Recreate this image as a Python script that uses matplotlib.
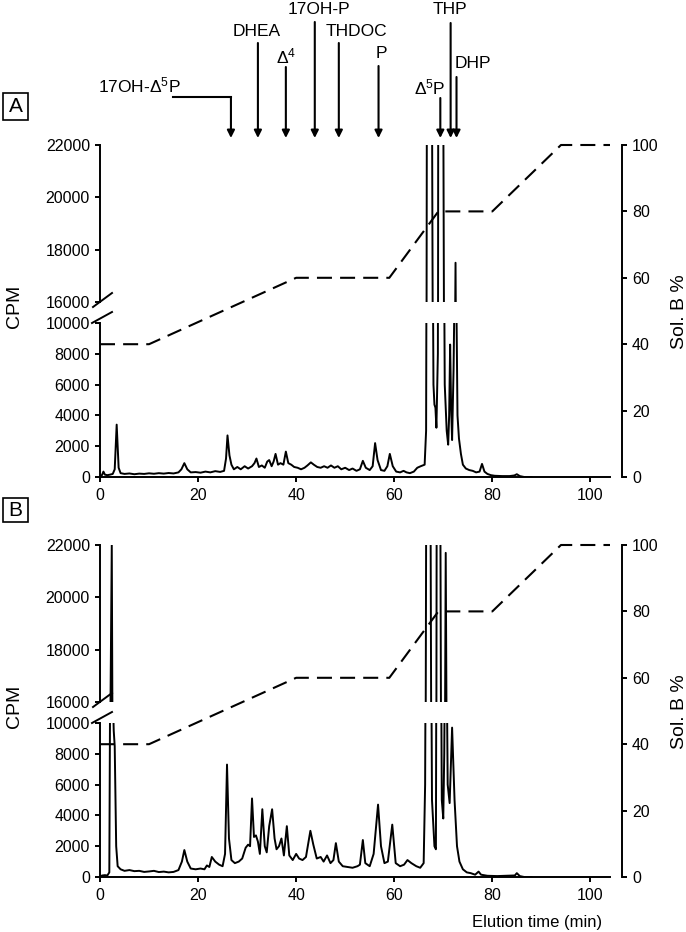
import matplotlib
matplotlib.use('Agg')
import matplotlib.pyplot as plt
from matplotlib.transforms import blended_transform_factory
from matplotlib.lines import Line2D
from matplotlib.patches import Rectangle

plt.rcParams['font.family'] = ['Liberation Sans', 'DejaVu Sans']
plt.rcParams['mathtext.fontset'] = 'custom'
plt.rcParams['mathtext.rm'] = 'Liberation Sans'
plt.rcParams['mathtext.it'] = 'Liberation Sans:italic'
plt.rcParams['mathtext.bf'] = 'Liberation Sans:bold'

# ---------------- data ----------------
# Solvent B gradient (% vs min)
grad_time = [0, 10, 40, 59, 69, 80, 94, 104]
grad_solb = [40, 40, 60, 60, 80, 80, 100, 100]

# Panel A radio-chromatogram (min, CPM)
time_a = [0.0, 0.4, 0.7, 1.0, 1.5, 2.0, 2.6, 3.0, 3.4, 3.8,
          4.2, 5.0, 6.0, 7.0, 8.0, 9.0, 10.0, 11.0, 12.0, 13.0,
          14.0, 15.0, 16.0, 16.6, 17.2, 17.8, 18.5, 19.5, 20.5, 21.5,
          22.5, 23.5, 24.5, 25.3, 25.7, 26.0, 26.4, 26.8, 27.3, 28.0,
          28.7, 29.5, 30.2, 31.0, 31.5, 31.9, 32.4, 33.0, 33.6, 34.1,
          34.5, 35.0, 35.4, 35.8, 36.3, 36.8, 37.4, 37.9, 38.4, 39.0,
          39.6, 40.3, 41.0, 41.7, 42.3, 43.0, 43.6, 44.3, 45.0, 45.7,
          46.4, 47.1, 47.8, 48.5, 49.2, 50.0, 50.8, 51.5, 52.3, 53.0,
          53.6, 54.2, 55.0, 55.6, 56.1, 56.6, 57.3, 58.0, 58.6, 59.1,
          59.7, 60.4, 61.2, 61.9, 62.5, 63.2, 64.0, 64.7, 65.4, 66.2,
          66.5, 66.7, 67.6, 68.0, 68.2, 68.4, 68.6, 68.9, 69.0, 69.9,
          70.3, 70.7, 71.0, 71.2, 71.4, 71.6, 71.8, 72.1, 72.5, 72.9,
          73.2, 73.6, 74.0, 74.6, 75.3, 76.0, 76.7, 77.4, 77.9, 78.4,
          79.0, 79.7, 80.5, 82.0, 83.5, 84.5, 85.0, 85.6, 86.5, 88.0]
cpm_a = [80, 120, 350, 150, 120, 150, 200, 500, 3400, 600,
         250, 200, 230, 180, 220, 200, 240, 210, 250, 220,
         260, 230, 300, 500, 900, 500, 300, 320, 280, 350,
         300, 380, 330, 400, 1200, 2700, 1400, 800, 500, 650,
         500, 700, 550, 700, 900, 1200, 650, 750, 600, 1000,
         1100, 700, 1000, 1500, 800, 900, 800, 1650, 900, 800,
         650, 600, 500, 600, 750, 950, 800, 650, 600, 700,
         600, 750, 600, 700, 500, 600, 450, 550, 400, 500,
         1050, 600, 450, 700, 2200, 1100, 450, 400, 700, 1500,
         700, 350, 300, 400, 300, 250, 350, 600, 700, 800,
         3000, 30000, 30000, 6000, 4700, 4500, 3200, 8000, 30000, 30000,
         6000, 3000, 2100, 4000, 8600, 4500, 2400, 7000, 17500, 4000,
         2500, 1500, 800, 550, 450, 400, 300, 350, 850, 350,
         200, 120, 80, 60, 60, 100, 180, 60, 0, 0]

# Panel B radio-chromatogram (min, CPM)
time_b = [0.0, 0.5, 1.0, 1.5, 1.9, 2.1, 2.4, 2.6, 2.8, 3.0,
          3.3, 3.6, 4.2, 5.0, 6.0, 7.0, 8.0, 9.0, 10.0, 11.0,
          12.0, 13.0, 14.0, 15.0, 16.0, 16.7, 17.2, 17.8, 18.5, 19.5,
          20.5, 21.3, 21.8, 22.3, 22.8, 23.5, 24.3, 25.0, 25.5, 25.9,
          26.3, 26.8, 27.5, 28.3, 29.0, 29.7, 30.2, 30.6, 31.0, 31.4,
          31.8, 32.2, 32.6, 33.1, 33.6, 34.0, 34.5, 35.1, 35.6, 36.0,
          36.5, 37.0, 37.5, 38.1, 38.6, 39.3, 40.0, 40.6, 41.3, 42.0,
          42.9, 43.5, 44.2, 45.0, 45.6, 46.3, 47.0, 47.6, 48.1, 48.7,
          49.5, 50.5, 51.5, 52.5, 53.0, 53.6, 54.1, 55.0, 55.8, 56.7,
          57.3, 58.0, 58.7, 59.6, 60.3, 61.2, 62.0, 62.7, 63.5, 64.5,
          65.3, 66.0, 66.3, 66.6, 67.3, 67.7, 68.2, 68.5, 68.7, 69.3,
          69.7, 70.0, 70.2, 70.5, 70.9, 71.3, 71.8, 72.3, 72.8, 73.3,
          74.0, 74.8, 75.6, 76.5, 77.2, 77.7, 79.0, 81.0, 83.0, 84.6,
          85.0, 85.6, 86.5, 88.0]
cpm_b = [50, 100, 120, 100, 300, 15000, 22000, 12000, 9500, 8500,
         2000, 700, 500, 400, 450, 380, 400, 330, 360, 400,
         320, 350, 300, 330, 450, 1000, 1750, 1000, 550, 500,
         550, 500, 750, 650, 1300, 1000, 800, 700, 1500, 7300,
         2500, 1100, 900, 1000, 1200, 1900, 2100, 2000, 5100, 2600,
         2700, 2300, 1500, 4400, 2000, 1600, 3300, 4400, 2500, 1800,
         2000, 2500, 1400, 3300, 1400, 1100, 1500, 1200, 1100, 1300,
         3000, 2100, 1200, 1300, 1000, 1400, 900, 1100, 2200, 1000,
         700, 650, 600, 700, 800, 2400, 900, 700, 1500, 4700,
         2000, 900, 1000, 3400, 900, 700, 800, 1100, 900, 700,
         600, 900, 6000, 30000, 30000, 5000, 2000, 1800, 30000, 30000,
         5000, 3800, 8000, 21700, 6000, 4800, 9700, 5000, 2000, 1000,
         500, 300, 250, 150, 350, 150, 80, 60, 80, 100,
         250, 60, 0, 0]

# Peak identification arrows (panel A)
std_labels = ['17OH-Δ$^{5}$P', 'DHEA', 'Δ$^{4}$', '17OH-P', 'THDOC', 'P',
              'Δ$^{5}$P', 'THP', 'DHP']
std_times = [26.7, 32.2, 37.9, 43.8, 48.7, 56.8, 69.4, 71.5, 72.7]

# ---------------- layout ----------------
W, H = 686, 932
fig = plt.figure(figsize=(W / 100, H / 100), dpi=100)
PX_PER_MIN = 4.91
XMAX = 104
LEFT, WIDTH = 100, 510
UP_H, LOW_H = 157, 154
LW = 1.4
TFS = 11.5


def fx(px):
    return px / W


def fy(py):
    return 1 - py / H


def style_ticks(ax):
    ax.tick_params(direction='out', length=3.6, width=LW, labelsize=TFS, pad=3.6)


def make_panel(top, bottom, t, cpm, letter, box):
    # background axis with the solvent gradient
    ax_bg = fig.add_axes([fx(LEFT), fy(bottom), WIDTH / W, (bottom - top) / H])
    ax_bg.patch.set_visible(False)
    ax_bg.set_xlim(0, XMAX)
    ax_bg.set_ylim(0, 100)
    for s in ['left', 'top', 'bottom']:
        ax_bg.spines[s].set_visible(False)
    ax_bg.spines['right'].set_position(('outward', 8.6))
    ax_bg.spines['right'].set_linewidth(LW)
    ax_bg.yaxis.tick_right()
    ax_bg.yaxis.set_label_position('right')
    ax_bg.set_yticks(range(0, 101, 20))
    ax_bg.set_xticks([])
    style_ticks(ax_bg)
    ax_bg.plot(grad_time, grad_solb, color='black', lw=1.5, dashes=(7.2, 3.9),
               clip_on=False)

    # lower CPM axis
    ax_lo = fig.add_axes([fx(LEFT), fy(bottom), WIDTH / W, LOW_H / H])
    ax_lo.patch.set_visible(False)
    ax_lo.set_xlim(0, XMAX)
    ax_lo.set_ylim(0, 10000)
    for s in ['right', 'top']:
        ax_lo.spines[s].set_visible(False)
    for s in ['left', 'bottom']:
        ax_lo.spines[s].set_linewidth(LW)
    ax_lo.set_yticks(range(0, 10001, 2000))
    ax_lo.set_xticks(range(0, 101, 20))
    style_ticks(ax_lo)
    ax_lo.tick_params(axis='x', pad=4.6)
    ax_lo.plot(t, cpm, color='black', lw=1.4)

    # upper CPM axis
    ax_up = fig.add_axes([fx(LEFT), fy(top + UP_H), WIDTH / W, UP_H / H])
    ax_up.patch.set_visible(False)
    ax_up.set_xlim(0, XMAX)
    ax_up.set_ylim(16000, 22000)
    for s in ['right', 'top', 'bottom']:
        ax_up.spines[s].set_visible(False)
    ax_up.spines['left'].set_linewidth(LW)
    ax_up.set_yticks(range(16000, 22001, 2000))
    ax_up.set_xticks([])
    style_ticks(ax_up)
    ax_up.plot(t, cpm, color='black', lw=1.4)

    # axis break marks
    yb_up = top + UP_H
    yb_lo = bottom - LOW_H
    fig.add_artist(Line2D([fx(LEFT - 7), fx(LEFT + 12)], [fy(yb_up + 5), fy(yb_up - 9)],
                          color='black', lw=LW, transform=fig.transFigure))
    fig.add_artist(Line2D([fx(LEFT - 8), fx(LEFT + 12)], [fy(yb_lo), fy(yb_lo - 11)],
                          color='black', lw=LW, transform=fig.transFigure))

    # labels
    mid = (top + bottom) / 2
    fig.text(fx(15), fy(mid - 5), 'CPM', rotation=90, ha='center', va='center',
             fontsize=14)
    fig.text(fx(679), fy(mid + 1), 'Sol. B %', rotation=90, ha='center',
             va='center', fontsize=14)

    # panel letter box
    bx0, by0, bx1, by1 = box
    fig.add_artist(Rectangle((fx(bx0), fy(by1)), (bx1 - bx0) / W, (by1 - by0) / H,
                             transform=fig.transFigure, fill=False, ec='black',
                             lw=1.2))
    fig.text(fx((bx0 + bx1) / 2), fy((by0 + by1) / 2), letter, ha='center',
             va='center', fontsize=15)
    return ax_bg, ax_lo, ax_up


ax_bg_a, _, _ = make_panel(145, 477, time_a, cpm_a, 'A', (3, 93, 28, 120))
make_panel(545, 877, time_b, cpm_b, 'B', (3, 498, 28, 522))

fig.text(fx(537), fy(923), 'Elution time (min)', ha='center', va='center',
         fontsize=12)

# peak identification arrows above panel A
trans = blended_transform_factory(ax_bg_a.transData, fig.transFigure)
arrow_top_px = [97, 43, 67, 22, 43, 66, 98, 23, 77]
label_pos = [(8.1, 85), (32.0, 31), (37.9, 56), (44.6, 9), (52.3, 31),
             (57.4, 54), (67.2, 87), (71.3, 9), (76.0, 63)]
tip_px = 138
for lab, tm, ytop, (lx, ly) in zip(std_labels, std_times, arrow_top_px, label_pos):
    ax_bg_a.annotate('', xy=(tm, fy(tip_px)), xytext=(tm, fy(ytop)),
                     xycoords=trans, textcoords=trans, annotation_clip=False,
                     arrowprops=dict(arrowstyle='-|>', color='black', lw=1.5,
                                     shrinkA=0, shrinkB=0, mutation_scale=11))
    ax_bg_a.text(lx, fy(ly), lab, transform=trans, ha='center', va='center',
                 fontsize=12.5)
# elbow for 17OH-Δ5P
ax_bg_a.plot([(173 - LEFT) / PX_PER_MIN, std_times[0]], [fy(97), fy(97)],
             color='black', lw=1.5, transform=trans, clip_on=False)

fig.savefig('out.png', dpi=100)
